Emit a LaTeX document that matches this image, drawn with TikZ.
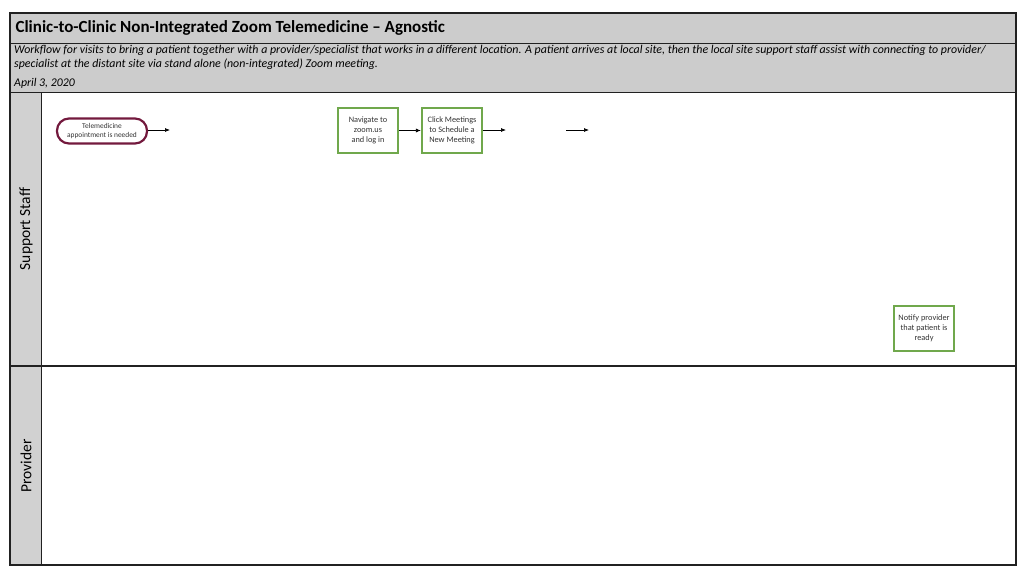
\documentclass[tikz,border=0pt]{standalone}
\usepackage{fontspec}
\setmainfont{Carlito}
\usetikzlibrary{calc}
\usetikzlibrary{arrows.meta}
\definecolor{band}{rgb}{0.80, 0.80, 0.80}
\definecolor{lanegray}{rgb}{0.82, 0.82, 0.82}
\definecolor{frame}{rgb}{0.13, 0.13, 0.13}
\definecolor{termred}{rgb}{0.45, 0.10, 0.24}
\definecolor{procgreen}{rgb}{0.44, 0.66, 0.30}
\newcommand\boxfont{\fontsize{8.3}{10}\selectfont}
\newcommand\termfont{\fontsize{7.4}{9.5}\selectfont}

\tikzset{
  terminal/.style={draw=termred,line width=2.2pt,rounded corners=12pt,
    minimum width=90pt,minimum height=25pt,align=center,text=black!80,
    inner sep=1pt,font=\termfont},
  process/.style={draw=procgreen,line width=2.2pt,minimum width=60pt,
    minimum height=45pt,align=center,text=black!80,inner sep=1pt,
    font=\boxfont},
  flow/.style={-{Latex[length=5pt,width=4pt]},line width=0.7pt},
}

\begin{document}
\begin{tikzpicture}[x=1pt,y=-1pt]
\useasboundingbox (0,0) rectangle (1024,568);
% header bands
\fill[band] (10,13) rectangle (1016,92);
\draw[frame,line width=1pt] (10,43) -- (1016,43);
\node[anchor=west,font=\fontsize{17}{20}\selectfont\bfseries] (title) at (12,28)
  {Clinic-to-Clinic Non-Integrated Zoom Telemedicine – Agnostic};
\node[anchor=north west,align=left,inner sep=0pt,
  font=\fontsize{11.9}{14}\selectfont\itshape] (descr) at (14,45) {%
Workflow for visits to bring a patient together with a provider/specialist that works in a different location. A patient arrives at local site, then the local site support staff assist with connecting to provider/\\
specialist at the distant site via stand alone (non-integrated) Zoom meeting.};
\node[anchor=west,inner sep=0pt,font=\fontsize{11.8}{14}\selectfont\itshape] (date) at (14,83) {April 3, 2020};
% lanes
\fill[lanegray] (10,92) rectangle (41,565);
\draw[frame,line width=1pt] (10,92) -- (1016,92);
\draw[frame,line width=1.2pt] (10,366) -- (1016,366);
\draw[frame,line width=1pt] (41,92) -- (41,565);
\node[rotate=90,font=\fontsize{15.5}{18}\selectfont] (staff) at (26,229) {Support Staff};
\node[rotate=90,font=\fontsize{15.5}{18}\selectfont] (prov) at (26,466) {Provider};
\draw[frame,line width=1.5pt] (10,13) rectangle (1016,565);

% steps
\node[terminal] (need) at (102,131) {Telemedicine\\appointment is needed};
\node[process] (nav) at (368,130.5) {Navigate to\\zoom.us\\and log in};
\node[process] (click) at (452,130.5) {Click Meetings\\to Schedule a\\New Meeting};
\node[process] (notify) at (924,328.5) {Notify provider\\that patient is\\ready};
\coordinate (needend) at (170,130);
\coordinate (clickend) at (506,130);
\coordinate (gapstart) at (566,130);
\coordinate (gapend) at (589,130);

\draw[flow] (need.east |- needend) -- (needend);
\draw[flow] (nav) -- (click);
\draw[flow] (click.east |- clickend) -- (clickend);
\draw[flow] (gapstart) -- (gapend);
\end{tikzpicture}
\end{document}
